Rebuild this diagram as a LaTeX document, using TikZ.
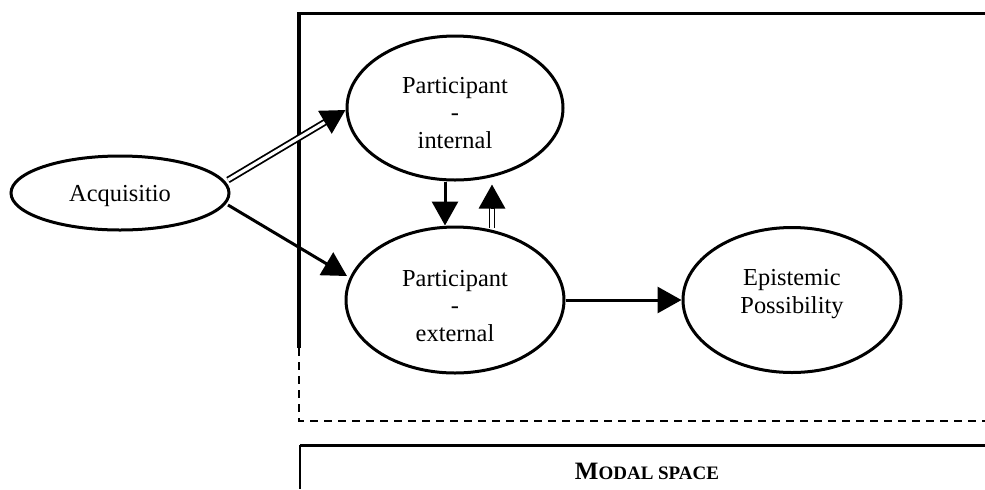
\documentclass[tikz,border=0pt]{standalone}
\usepackage{fontspec}
\setmainfont{Liberation Serif}
\usetikzlibrary{arrows.meta,shapes.geometric,calc}
\begin{document}
\begin{tikzpicture}[x=0.5pt,y=-0.5pt,
  ell/.style={draw, ellipse, line width=1.5pt, inner sep=0pt},
  txt/.style={inner sep=0pt, align=center, font=\fontsize{12.2}{13.8}\selectfont},
  tipk/.style={-{Triangle[length=12pt,width=13pt]}},
  conn/.style={line width=1.5pt, tipk},
  dbl/.style={double, double distance=1.6pt, line width=0.9pt},
  frame/.style={line width=1.7pt},
  dsh/.style={line width=1.1pt, dash pattern=on 4pt off 3pt}]
\useasboundingbox (0,0) rectangle (985,489);
% frames
\draw[frame] (299,348) -- (299,13.5) -- (985,13.5);
\draw[dsh] (299,348) -- (299,421) -- (985,421);
\draw[line width=1.5pt] (985,445) -- (300,445);
\draw[line width=0.6pt] (300,445) -- (300,489);
\node (modal) at (647,471) {\bfseries\fontsize{12.5}{14}\selectfont M\fontsize{9.5}{10}\selectfont ODAL SPACE};
% nodes
\node[ell, minimum width=109pt, minimum height=37pt] (acq) at (120,193) {};
\node[ell, minimum width=108pt, minimum height=72pt] (int) at (455,108) {};
\node[ell, minimum width=109pt, minimum height=73pt] (ext) at (455,300) {};
\node[ell, minimum width=109pt, minimum height=72.5pt] (epi) at (792,300) {};
\node[txt] (acqT) at ($(acq.center)+(0,3)$) {Acquisitio};
\node[txt] (intT) at ($(int.center)+(0,5)$) {Participant\\-\\internal};
\node[txt] (extT) at ($(ext.center)+(0,6)$) {Participant\\-\\external};
\node[txt] (epiT) at ($(epi.center)+(0,-6)$) {Epistemic\\Possibility};
% connectors
\coordinate (a1) at ($(acq.center)+(108,-13)$);
\coordinate (a2) at ($(int.west)+(0,2)$);
\draw[dbl, shorten >=10pt] (a1) -- (a2);
\draw[conn] ($(a2)!12pt!(a1)$) -- (a2);
\draw[conn] ($(acq.center)+(108,12)$) -- ($(ext.center)+(-108,-24)$);
\draw[conn] ($(int.south)+(-10,0)$) -- ($(ext.north)+(-10,0)$);
\coordinate (u1) at ($(ext.north)+(37,2)$);
\coordinate (u2) at ($(int.south)+(37,3)$);
\draw[dbl, shorten >=10pt] (u1) -- (u2);
\draw[conn] ($(u2)!12pt!(u1)$) -- (u2);
\draw[conn] (ext.east) -- (epi.west);
\end{tikzpicture}
\end{document}
